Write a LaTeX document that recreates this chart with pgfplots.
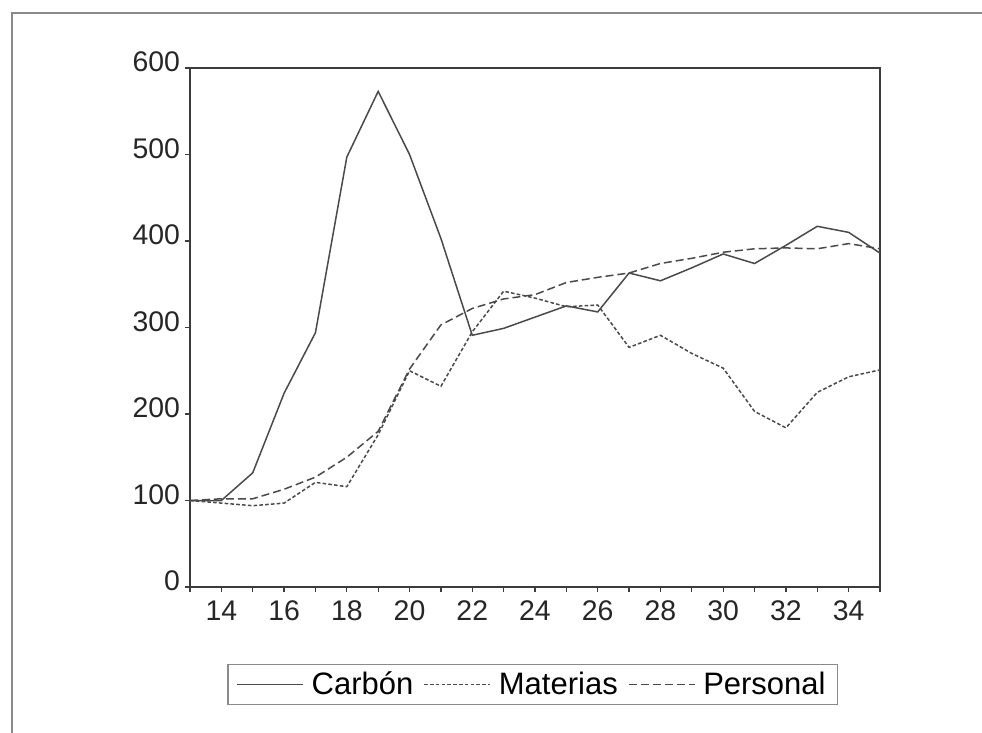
\documentclass[border=0pt]{standalone}
\usepackage{fontspec}
\setmainfont{Liberation Sans}
\usepackage{pgfplots}
\pgfplotsset{compat=1.18}

\definecolor{frame}{HTML}{3C3C3C}
\definecolor{ink}{HTML}{4A4A4A}
\definecolor{outer}{HTML}{8A8A8A}

\begin{document}
\begin{tikzpicture}
% page = 982 x 733 px, 1 px = 0.5 pt
\useasboundingbox (0,0) rectangle (491pt,-366.5pt);
\fill[white] (0,0) rectangle (491pt,-366.5pt);
\draw[outer, line width=0.9pt] (6pt,-370pt) -- (6pt,-6.5pt) -- (495pt,-6.5pt);

\begin{axis}[
    at={(95pt,-293.5pt)}, anchor=south west,
    scale only axis,
    width=345pt, height=259.5pt,
    xmin=13, xmax=35,
    ymin=0, ymax=600,
    xtick={14,16,...,34},
    minor xtick={13,15,...,35},
    ytick={0,100,...,600},
    xtick pos=bottom, ytick pos=left,
    tick align=outside,
    major tick length=2.5pt,
    minor tick length=2.5pt,
    every tick/.style={frame, line width=0.6pt},
    axis line style={frame, line width=1pt},
    tick label style={font=\fontsize{14.2}{16}\selectfont, text=black!85},
    yticklabel style={yshift=3pt, xshift=1pt},
    xticklabel style={yshift=-1pt},
    /pgf/number format/assume math mode=true,
    legend columns=3,
    legend style={
        at={(0.497,-0.188)}, anchor=center,
        draw=outer, line width=0.8pt,
        font=\fontsize{15.5}{17}\selectfont,
        inner xsep=4pt, inner ysep=1.5pt,
        /tikz/every odd column/.append style={column sep=2pt},
        /tikz/every even column/.append style={column sep=3pt},
    },
    legend image code/.code={\draw[#1] (0pt,0pt) -- (33pt,0pt);},
]
% Carbón
\addplot[ink, line width=0.75pt] coordinates {
(13,100) (14,100) (15,132) (16,224) (17,294) (18,497) (19,573) (20,500)
(21,403) (22,291) (23,299) (24,312) (25,325) (26,318) (27,363) (28,354)
(29,369) (30,385) (31,374) (32,395) (33,417) (34,410) (35,386)
};
% Materias
\addplot[ink, line width=0.75pt, dash pattern=on 1.8pt off 1.1pt] coordinates {
(13,100) (14,97) (15,94) (16,97) (17,121) (18,116) (19,176) (20,250)
(21,232) (22,295) (23,342) (24,334) (25,324) (26,326) (27,277) (28,291)
(29,270) (30,253) (31,203) (32,184) (33,225) (34,243) (35,251)
};
% Personal
\addplot[ink, line width=0.75pt, dash pattern=on 4pt off 2pt] coordinates {
(13,100) (14,102) (15,102) (16,113) (17,127) (18,150) (19,180) (20,252)
(21,303) (22,322) (23,333) (24,338) (25,352) (26,358) (27,363) (28,374)
(29,380) (30,387) (31,391) (32,392) (33,391) (34,397) (35,391)
};
\legend{Carbón, Materias, Personal}
\end{axis}
\end{tikzpicture}
\end{document}
